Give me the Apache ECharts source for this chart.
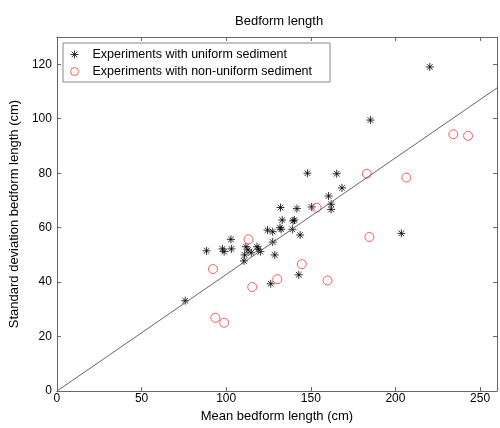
<!DOCTYPE html>
<html>
<head>
<meta charset="utf-8">
<script src="https://cdn.jsdelivr.net/npm/echarts@6/dist/echarts.min.js"></script>
<style>
  html, body { margin: 0; padding: 0; background: #fff; }
  #chart { width: 500px; height: 428px; }
</style>
</head>
<body>
<div id="chart"></div>
<script>
// uniform sediment: [mean, std] in cm
var uniformData = [
  [75.8, 33.2], [88.4, 51.5], [97.8, 52.2], [98.8, 51.2], [102.8, 55.7],
  [103.1, 52.2], [110.5, 47.8], [110.9, 50.0], [111.7, 53.0], [112.9, 51.8],
  [114.8, 50.8], [118.2, 53.0], [119.0, 52.1], [120.2, 51.2], [124.4, 59.1],
  [126.3, 39.4], [127.5, 54.7], [127.5, 58.5], [128.7, 50.0], [131.8, 60.0],
  [132.1, 67.4], [133.1, 62.8], [132.5, 59.4], [139.1, 59.4], [139.5, 62.5],
  [140.3, 62.8], [141.8, 67.0], [142.9, 42.7], [143.7, 57.3], [148.0, 80.0],
  [150.5, 67.6], [160.5, 71.6], [162.0, 68.6], [162.0, 66.7], [165.3, 79.8],
  [168.4, 74.6], [185.2, 99.5], [203.5, 57.9], [220.3, 119.0]
]
// non-uniform sediment
var nonUniformData = [
  [92.2, 44.8], [93.6, 26.9], [98.8, 25.1], [113.2, 55.7], [115.4, 38.2],
  [130.2, 41.1], [144.7, 46.6], [153.4, 67.3], [159.9, 40.6], [183.1, 79.8],
  [184.6, 56.6], [206.4, 78.4], [234.2, 94.3], [242.9, 93.7]
]
// fitted line
var fitLine = [[0, 0], [260, 111.3]]
var xTicks = [0, 50, 100, 150, 200, 250]
var yTicks = [0, 20, 40, 60, 80, 100, 120]

var font = 'Liberation Sans, Arial, sans-serif'
var starPath = 'path://M5 0L5 10M0 5L10 5M1.5 1.5L8.5 8.5M8.5 1.5L1.5 8.5'
var starStyle = { color: 'transparent', borderColor: '#000', borderWidth: 1 }
var circleStyle = { color: 'transparent', borderColor: '#ff3333', borderWidth: 1 }

var chart = echarts.init(document.getElementById('chart'))
var axisCommon = {
  axisLine: { show: true, onZero: false, lineStyle: { color: '#666', width: 1 } },
  axisTick: { show: true, inside: true, length: 4, lineStyle: { color: '#666' } },
  splitLine: { show: false }
}
var option = {
  animation: false,
  title: {
    text: 'Bedform length',
    left: 230,
    top: 10,
    padding: 5,
    textStyle: { fontFamily: font, fontSize: 13, fontWeight: 'normal', color: '#000' }
  },
  legend: {
    orient: 'vertical',
    left: 63,
    top: 43,
    padding: [5, 18, 4, 7],
    itemWidth: 26,
    itemHeight: 8,
    itemGap: 4,
    borderColor: '#888',
    borderWidth: 1,
    backgroundColor: '#fff',
    textStyle: { fontFamily: font, fontSize: 12.5, color: '#000' },
    data: [
      { name: 'Experiments with uniform sediment', icon: starPath, itemStyle: starStyle },
      { name: 'Experiments with non-uniform sediment', icon: 'circle', itemStyle: circleStyle }
    ]
  },
  grid: { left: 55, top: 37, width: 449, height: 355 },
  xAxis: [
    Object.assign({
      type: 'value', min: 0, max: 260, interval: 50,
      name: 'Mean bedform length (cm)',
      nameLocation: 'middle', nameGap: 18,
      nameTextStyle: { fontFamily: font, fontSize: 13, color: '#000' },
      axisLabel: {
        fontFamily: font, fontSize: 12, color: '#000', margin: 2,
        formatter: function (v) { return xTicks.indexOf(v) >= 0 ? v : '' }
      }
    }, axisCommon),
    Object.assign({
      type: 'value', min: 0, max: 260, interval: 50, position: 'top',
      axisLabel: { show: false }
    }, axisCommon)
  ],
  yAxis: [
    Object.assign({
      type: 'value', min: 0, max: 130, interval: 20,
      name: 'Standard deviation bedform length (cm)',
      nameLocation: 'middle', nameGap: 30,
      nameTextStyle: { fontFamily: font, fontSize: 13, color: '#000' },
      axisLabel: {
        fontFamily: font, fontSize: 12, color: '#000', margin: 5,
        formatter: function (v) { return yTicks.indexOf(v) >= 0 ? v : '' }
      }
    }, axisCommon),
    Object.assign({
      type: 'value', min: 0, max: 130, interval: 20, position: 'right',
      axisLabel: { show: false }
    }, axisCommon)
  ],
  series: [
    {
      name: 'fit',
      type: 'line',
      data: fitLine,
      symbol: 'none',
      lineStyle: { color: '#666', width: 1 },
      silent: true
    },
    {
      name: 'Experiments with uniform sediment',
      type: 'scatter',
      data: uniformData,
      symbol: starPath,
      symbolSize: 8,
      itemStyle: starStyle
    },
    {
      name: 'Experiments with non-uniform sediment',
      type: 'scatter',
      data: nonUniformData,
      symbol: 'circle',
      symbolSize: 9,
      itemStyle: circleStyle
    }
  ]
}
chart.setOption(option)
</script>
</body>
</html>
